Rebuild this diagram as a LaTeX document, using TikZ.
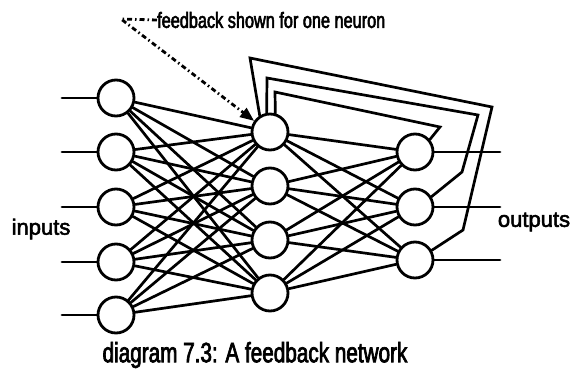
\documentclass[tikz,border=0pt]{standalone}
\usepackage{fontspec}
\setmainfont{Liberation Sans}
\newfontfamily\heavysans[FakeBold=2.5]{Liberation Sans}
\newfontfamily\narrowsans[FakeStretch=0.74,FakeBold=2.5]{Liberation Sans}
\usetikzlibrary{arrows.meta}

\begin{document}
\begin{tikzpicture}[x=1pt,y=-1pt,
  neuron/.style={circle,draw,line width=2.8pt,minimum size=36pt,inner sep=0pt},
  wire/.style={line width=2.7pt,line cap=round,line join=miter},
  leader/.style={line width=2.8pt,dash pattern=on 5pt off 3pt on 1.5pt off 3pt,
                 -{Triangle[length=14pt,width=11pt]}},
  sidelabel/.style={font=\heavysans\fontsize{22}{24}\selectfont,inner sep=0pt},
  toplabel/.style={font=\narrowsans\fontsize{22}{24}\selectfont,inner sep=0pt,anchor=west},
  caption/.style={font=\narrowsans\fontsize{28}{30}\selectfont,inner sep=0pt}]
\useasboundingbox (0,0) rectangle (581,375);

% input layer
\foreach \i/\y in {1/98,2/152,3/207,4/262,5/315}{
  \node[neuron] (I\i) at (116,\y) {};
  \coordinate (in\i) at (62,\y);
  \draw[wire] (in\i) -- (I\i);
}
% hidden layer
\foreach \i/\y in {1/132,2/186,3/240,4/293}
  \node[neuron] (H\i) at (270,\y) {};
% output layer
\foreach \i/\y in {1/152,2/207,3/260}{
  \node[neuron] (O\i) at (415,\y) {};
  \coordinate (out\i) at (500,\y);
  \draw[wire] (O\i) -- (out\i);
}

% full connections between layers
\foreach \i in {1,...,5}
  \foreach \j in {1,...,4}
    \draw[wire] (I\i) -- (H\j);
\foreach \j in {1,...,4}
  \foreach \k in {1,...,3}
    \draw[wire] (H\j) -- (O\k);

% feedback paths from the outputs to the first hidden neuron
\coordinate (fa1) at (440,127); \coordinate (fa2) at (275,92);
\draw[wire] (O1.40) -- (fa1) -- (fa2) -- (H1.74);
\coordinate (fb1) at (462,172); \coordinate (fb2) at (478,115); \coordinate (fb3) at (267,78);
\draw[wire] (O2.32) -- (fb1) -- (fb2) -- (fb3) -- (H1.100);
\coordinate (fc1) at (463,230); \coordinate (fc2) at (492,107); \coordinate (fc3) at (250,58);
\draw[wire] (O3.30) -- (fc1) -- (fc2) -- (fc3) -- (H1.122);

% labels
\node[toplabel] (note) at (157,20) {feedback shown for one neuron};
\coordinate (lead) at (121,19);
\draw[leader] (note.west) -- (lead) -- (H1.145);

\node[sidelabel] (inp) at (41,229) {inputs};
\node[sidelabel] (outp) at (534,222) {outputs};
\node[caption] (cap) at (255,355) {diagram 7.3: A feedback network};
\end{tikzpicture}
\end{document}
